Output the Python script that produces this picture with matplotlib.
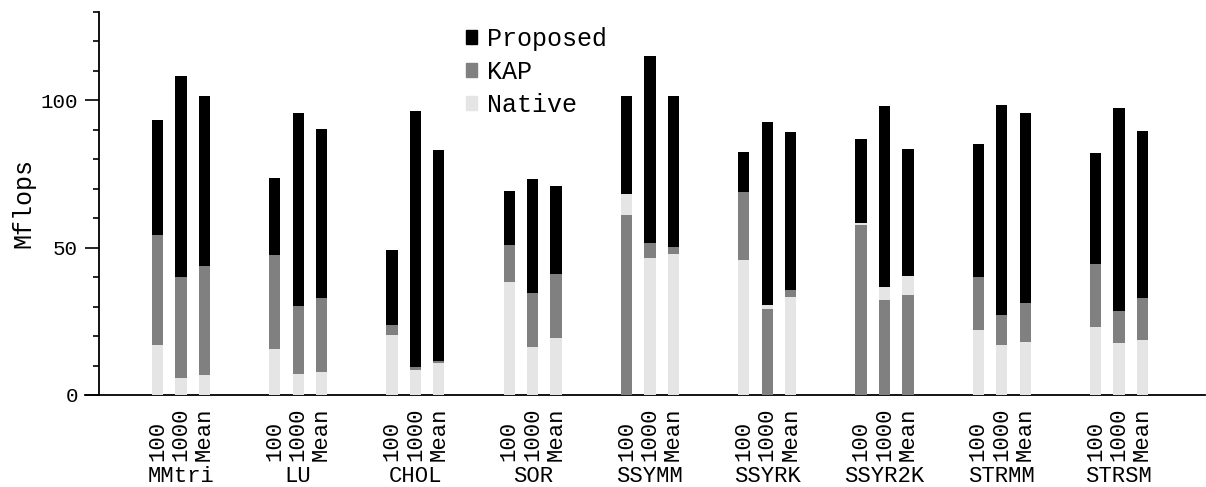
import numpy as np
import matplotlib
matplotlib.use("Agg")
import matplotlib.pyplot as plt
import matplotlib.transforms as mtransforms
from matplotlib.patches import Patch

plt.rcParams['font.family'] = ['Liberation Mono', 'DejaVu Sans Mono']

# benchmarks and problem sizes
groups = ['MMtri', 'LU', 'CHOL', 'SOR', 'SSYMM', 'SSYRK', 'SSYR2K', 'STRMM', 'STRSM']
sizes = ['100', '1000', 'Mean']

# Mflops, three values per benchmark (100, 1000, Mean)
proposed = [93.2, 108.4, 101.4, 73.6, 95.6, 90.2, 49.3, 96.3, 83.1,
            69.3, 73.3, 70.9, 101.4, 115.2, 101.4, 82.4, 92.6, 89.2,
            86.8, 98.0, 83.4, 85.1, 98.6, 95.6, 82.1, 97.3, 89.5]
kap = [54.4, 39.9, 43.7, 47.6, 30.1, 32.8, 23.6, 9.5, 11.6,
       51.0, 34.5, 41.2, 61.1, 51.7, 50.3, 68.9, 29.1, 35.8,
       57.8, 32.1, 33.8, 40.2, 27.0, 31.1, 44.6, 28.4, 32.8]
native = [16.9, 5.7, 6.8, 15.5, 7.1, 7.8, 20.3, 8.4, 10.8,
          38.5, 16.2, 19.3, 68.2, 46.6, 48.0, 45.9, 30.4, 33.1,
          58.4, 36.8, 40.5, 22.0, 16.9, 17.9, 23.0, 17.6, 18.6]

colors = {'Proposed': '#000000', 'KAP': '#808080', 'Native': '#e5e5e5'}

fig = plt.figure(figsize=(12.06, 4.87), dpi=100)
ax = fig.add_axes([85/1206, 92/487, 1120/1206, 383/487])

pos = []
for g in range(len(groups)):
    for j in range(len(sizes)):
        pos.append(5*g + j)

# bars overlap, tallest drawn first
for i, x in enumerate(pos):
    vals = [('Proposed', proposed[i]), ('KAP', kap[i]), ('Native', native[i])]
    vals.sort(key=lambda v: -v[1])
    for k, (name, v) in enumerate(vals):
        ax.bar(x, v, width=0.48, color=colors[name], zorder=3+k, linewidth=0)

ax.set_xlim(-3.09, 44.67)
ax.set_ylim(0, 130)
ax.spines['left'].set_position(('data', -2.5))
ax.spines['top'].set_visible(False)
ax.spines['right'].set_visible(False)
ax.spines['left'].set_linewidth(1.3)
ax.spines['bottom'].set_linewidth(1.3)

ax.set_yticks([0, 50, 100])
ax.set_yticks(np.arange(0, 131, 10), minor=True)
ax.tick_params(axis='y', which='major', length=10, width=1.2, labelsize=15, pad=5)
ax.tick_params(axis='y', which='minor', length=4.5, width=1.2)
ax.set_xticks([])
ax.set_ylabel('Mflops', fontsize=18, labelpad=4)

trans = mtransforms.blended_transform_factory(ax.transData, ax.transAxes)
for i, x in enumerate(pos):
    ax.text(x, -0.172, sizes[i % 3], rotation=90, ha='center', va='bottom',
            fontsize=16, transform=trans)
for g, name in enumerate(groups):
    ax.text(5*g + 1, -0.213, name, ha='center', va='center', fontsize=16,
            transform=trans)

handles = [Patch(color=colors[n]) for n in ['Proposed', 'KAP', 'Native']]
fig.legend(handles, ['Proposed', 'KAP', 'Native'], loc='upper left',
           bbox_to_anchor=(466/1206, 1 - 27/487), frameon=False, fontsize=18,
           handlelength=0.45, handleheight=0.45, handletextpad=0.4,
           labelspacing=0.36, borderpad=0, borderaxespad=0)

fig.savefig('out.png', dpi=100)
